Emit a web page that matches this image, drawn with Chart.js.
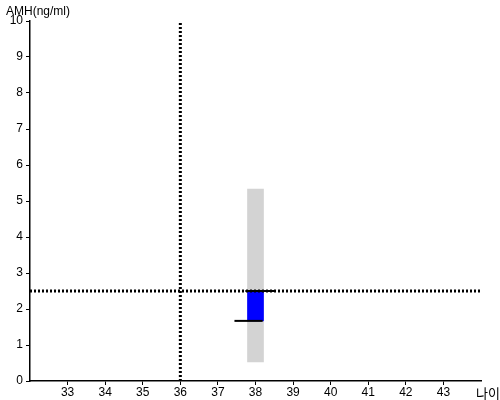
<!DOCTYPE html>
<html>
<head>
<meta charset="utf-8">
<script src="https://cdn.jsdelivr.net/npm/chart.js@4/dist/chart.umd.min.js"></script>
<style>
  html, body { margin: 0; padding: 0; background: #fff; }
  #wrap { width: 500px; height: 400px; }
</style>
</head>
<body>
<div id="wrap"><canvas id="amhChart" width="500" height="400"></canvas></div>
<script>
// 축 범위와 눈금
var xTicks = [33, 34, 35, 36, 37, 38, 39, 40, 41, 42, 43];
var yTicks = [0, 1, 2, 3, 4, 5, 6, 7, 8, 9, 10];
var xRange = [32, 44];
var yRange = [0, 10];

// 나이별 AMH 범위 (회색) 와 측정 구간 (파란색)
var ages = [38];
var normalLow = [0.53];
var normalHigh = [5.33];
var measuredLow = [1.67];
var measuredHigh = [2.5];

// 측정 구간 양 끝의 가로선 (나이 축 범위)
var topLineAges = [37.73, 38.5];
var bottomLineAges = [37.44, 38.19];

// 기준선
var refAge = 36;
var refAmh = 2.5;

var labelPlugin = {
    id: 'axisLabels',
    afterDraw: function (chart) {
        var ctx = chart.ctx;
        ctx.save();
        ctx.fillStyle = '#000';
        ctx.textAlign = 'left';
        ctx.textBaseline = 'alphabetic';
        ctx.font = '12px "Liberation Sans", Arial, sans-serif';
        ctx.fillText('AMH(ng/ml)', 6, 15);
        ctx.font = '13px "Noto Sans CJK KR", sans-serif';
        ctx.fillText('나이', 476, 398);
        ctx.restore();
    }
};

document.addEventListener("DOMContentLoaded", function () {
    var ctx = document.getElementById('amhChart').getContext('2d');

    new Chart(ctx, {
        type: 'bar',
        data: {
            datasets: [{
                label: '정상 범위',
                data: ages.map(function (a, i) { return { x: a, y: [normalLow[i], normalHigh[i]] }; }),
                backgroundColor: '#d3d3d3',
                barThickness: 16,
                grouped: false,
                order: 5
            }, {
                label: '측정값',
                data: ages.map(function (a, i) { return { x: a, y: [measuredLow[i], measuredHigh[i]] }; }),
                backgroundColor: '#0000ff',
                barThickness: 16,
                grouped: false,
                order: 4
            }, {
                type: 'line',
                label: '기준 나이',
                data: [{ x: refAge, y: yRange[0] }, { x: refAge, y: yRange[1] }],
                borderColor: '#000',
                borderWidth: 3,
                borderDash: [2, 2],
                pointRadius: 0,
                order: 3
            }, {
                type: 'line',
                label: '기준 AMH',
                data: [{ x: xRange[0], y: refAmh }, { x: xRange[1], y: refAmh }],
                borderColor: '#000',
                borderWidth: 3,
                borderDash: [2, 2],
                pointRadius: 0,
                order: 2
            }, {
                type: 'line',
                label: '상단',
                data: topLineAges.map(function (a) { return { x: a, y: measuredHigh[0] }; }),
                borderColor: '#000',
                borderWidth: 2,
                pointRadius: 0,
                order: 1
            }, {
                type: 'line',
                label: '하단',
                data: bottomLineAges.map(function (a) { return { x: a, y: measuredLow[0] }; }),
                borderColor: '#000',
                borderWidth: 2,
                pointRadius: 0,
                order: 1
            }]
        },
        options: {
            responsive: false,
            animation: false,
            layout: { padding: { left: 0, right: 19, top: 21, bottom: 0 } },
            plugins: {
                legend: { display: false },
                tooltip: { enabled: false }
            },
            scales: {
                x: {
                    type: 'linear',
                    min: xRange[0],
                    max: xRange[1],
                    offset: false,
                    afterBuildTicks: function (axis) {
                        axis.ticks = xTicks.map(function (v) { return { value: v }; });
                    },
                    afterFit: function (axis) { axis.height = 19; },
                    grid: { offset: false, drawOnChartArea: false, drawTicks: true, tickLength: 4, color: '#000' },
                    border: { display: true, color: '#000', width: 1.5 },
                    ticks: {
                        color: '#000',
                        padding: 0,
                        maxRotation: 0,
                        autoSkip: false,
                        font: { family: '"Liberation Sans", Arial, sans-serif', size: 12 }
                    }
                },
                y: {
                    min: yRange[0],
                    max: yRange[1],
                    afterBuildTicks: function (axis) {
                        axis.ticks = yTicks.map(function (v) { return { value: v }; });
                    },
                    afterFit: function (axis) { axis.width = 30; },
                    grid: { drawOnChartArea: false, drawTicks: true, tickLength: 4, color: '#000' },
                    border: { display: true, color: '#000', width: 1.5 },
                    ticks: {
                        color: '#000',
                        padding: 3,
                        autoSkip: false,
                        font: { family: '"Liberation Sans", Arial, sans-serif', size: 12 }
                    }
                }
            }
        },
        plugins: [labelPlugin]
    });
});
</script>
</body>
</html>
